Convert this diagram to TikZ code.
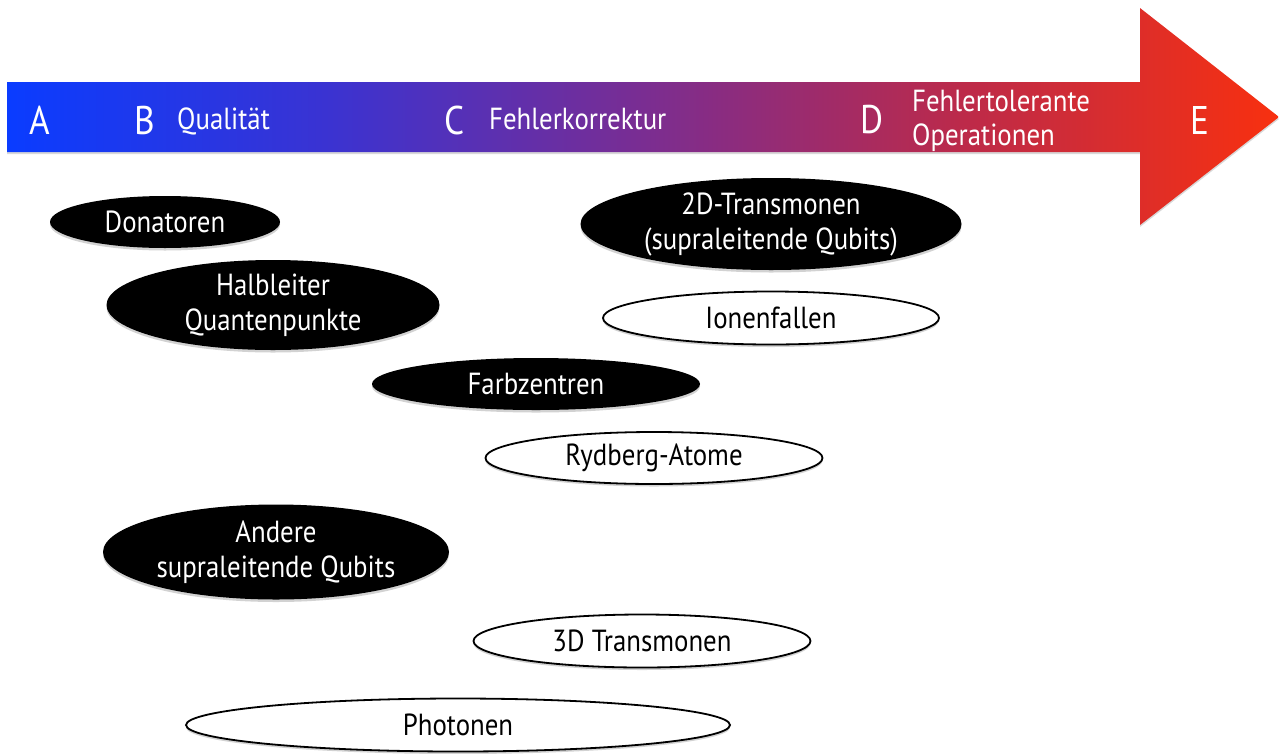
\documentclass[tikz,border=0pt]{standalone}
\usepackage{fontspec}
\setmainfont{PT Sans}[FakeStretch=0.88]
\usetikzlibrary{shapes.geometric,shadows}
\definecolor{c0}{HTML}{0A3CFF}
\definecolor{c1}{HTML}{3A33D2}
\definecolor{c2}{HTML}{7A2D92}
\definecolor{c3}{HTML}{BC2A4A}
\definecolor{c4}{HTML}{F8300F}
\pgfdeclarehorizontalshading{arrowshade}{100bp}{color(0bp)=(c0); color(25bp)=(c0); color(37.5bp)=(c1); color(50bp)=(c2); color(62.5bp)=(c3); color(75bp)=(c4); color(100bp)=(c4)}
\tikzset{
  ov/.style={shape=ellipse, inner sep=0pt, align=center, font=\fontsize{30.5}{35}\selectfont,
    drop shadow={shadow xshift=0pt, shadow yshift=-2.5pt, opacity=0.35}},
  dark/.style={ov, fill=black, text=white},
  light/.style={ov, fill=white, draw=black, line width=1.8pt, text=black},
  lbl/.style={text=white, font=\fontsize{30.5}{34}\selectfont, align=left, inner sep=0pt},
  big/.style={text=white, font=\fontsize{40}{44}\selectfont, inner sep=0pt}
}
\begin{document}
\begin{tikzpicture}[x=1pt,y=-1pt]
\useasboundingbox[fill=white] (0,0) rectangle (1279,753);
% arrow
\shade[shading=arrowshade, drop shadow={shadow xshift=0pt, shadow yshift=-2pt, opacity=0.3}]
  (7,82) -- (1140,82) -- (1140,8) -- (1279,117) -- (1140,225) -- (1140,152) -- (7,152) -- cycle;
\node[big] (A) at (40,120) {A};
\node[big] (B) at (145,120) {B};
\node[lbl, anchor=west] (Bl) at (177,121) {Qualität};
\node[big] (C) at (455,120) {C};
\node[lbl, anchor=west] (Cl) at (489,119) {Fehlerkorrektur};
\node[big] (D) at (872,120) {D};
\node[lbl, anchor=west] (Dl) at (912,121) {Fehlertolerante\\Operationen};
\node[big] (E) at (1200,120) {E};
% ellipses
\node[dark, minimum width=230pt, minimum height=52pt] (don) at (165,222) {Donatoren};
\node[dark, minimum width=381pt, minimum height=92pt] (tr2) at (771,224) {2D-Transmonen\\(supraleitende Qubits)};
\node[dark, minimum width=333pt, minimum height=90pt] (hq) at (273,305) {Halbleiter\\Quantenpunkte};
\node[light, minimum width=336pt, minimum height=53pt] (ion) at (771,318) {Ionenfallen};
\node[dark, minimum width=328pt, minimum height=52pt] (far) at (536,384) {Farbzentren};
\node[light, minimum width=337pt, minimum height=52pt] (ryd) at (654,458) {Rydberg-Atome};
\node[dark, minimum width=346pt, minimum height=95pt] (and) at (276,552) {Andere\\supraleitende Qubits};
\node[light, minimum width=337pt, minimum height=53pt] (tr3) at (642,641) {3D Transmonen};
\node[light, minimum width=544pt, minimum height=53pt] (pho) at (458,725) {Photonen};
\end{tikzpicture}
\end{document}
